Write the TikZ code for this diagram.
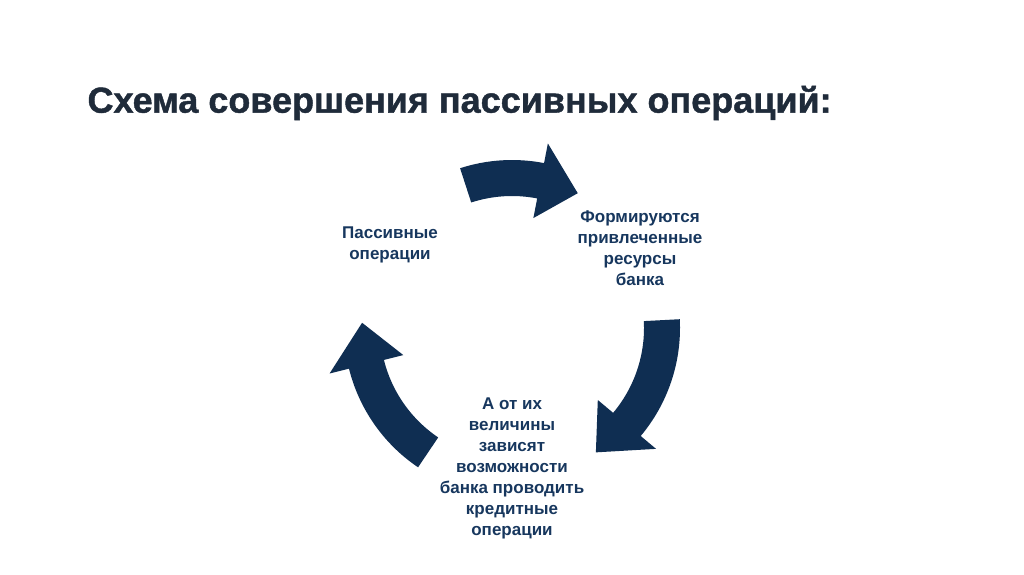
\documentclass[tikz,border=0pt]{standalone}
\usepackage{fontspec}
\setmainfont{Liberation Sans}
\newfontfamily\heavy{Liberation Sans Bold}[FakeBold=1.2]
\usetikzlibrary{calc}
\definecolor{navy}{HTML}{0F2E52}
\definecolor{ttl}{HTML}{1F2B3A}
\definecolor{lbl}{HTML}{17375E}
\tikzset{lab/.style={align=center,font=\bfseries\fontsize{17}{21}\selectfont,text=lbl}}
\newcommand{\cycarrow}[3]{%
\fill[navy] ($(C)+(#1:168)$) arc[start angle=#1,end angle=#2,radius=168]
 -- ($(C)+(#2:188)$) -- ($(C)+(#3:150)$) -- ($(C)+(#2:112)$) -- ($(C)+(#2:132)$)
 arc[start angle=#2,end angle=#1,radius=132] -- cycle;}
\begin{document}
\begin{tikzpicture}[x=1pt,y=1pt]
\useasboundingbox[fill=white] (0,0) rectangle (1024,-574);
\coordinate (C) at (512,-328);
\node[anchor=west,font=\heavy\fontsize{36}{42}\selectfont,text=ttl] (title) at (84,-103) {Схема совершения пассивных операций:};
\cycarrow{108}{79}{64}
\cycarrow{3}{-40}{-56}
\cycarrow{236}{194}{178}
\node[lab] (a) at (390,-245) {Пассивные\\операции};
\node[lab] (b) at (640,-248) {Формируются\\привлеченные\\ресурсы\\банка};
\node[lab] (c) at (512,-468) {А от их\\величины\\зависят\\возможности\\банка проводить\\кредитные\\операции};
\end{tikzpicture}
\end{document}
